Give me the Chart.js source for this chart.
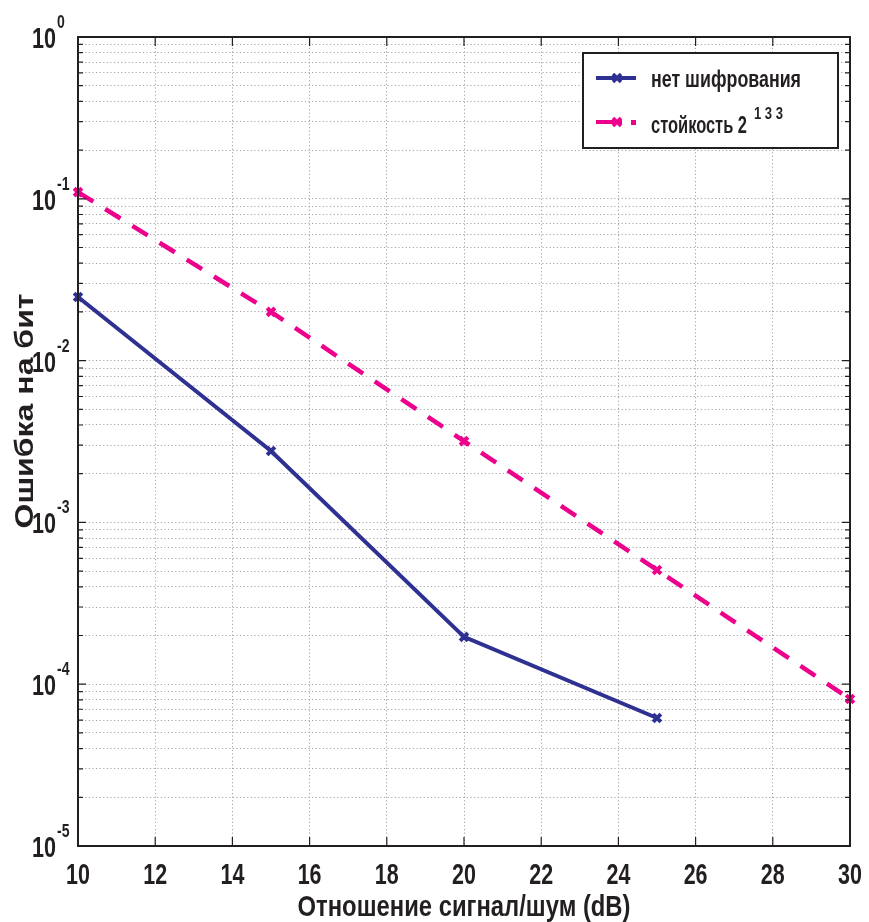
<!DOCTYPE html>
<html>
<head>
<meta charset="utf-8">
<script src="https://cdn.jsdelivr.net/npm/chart.js@4.4.0/dist/chart.umd.min.js"></script>
<style>
  body { margin: 0; background: #fff; }
  canvas { display: block; }
</style>
</head>
<body>
<canvas id="berChart" width="869" height="922"></canvas>
<script>
// data
const snrPlain = [10, 15, 20, 25];
const berPlain = [0.0247, 0.00276, 0.000196, 0.0000618];
const snrCipher = [10, 15, 20, 25, 30];
const berCipher = [0.110, 0.0200, 0.00318, 0.000508, 0.000081];

const seriesNames = ['нет шифрования', 'стойкость 2'];
const cipherExp = '1 3 3';
const xTicks = [10, 12, 14, 16, 18, 20, 22, 24, 26, 28, 30];
const yExps = [0, -1, -2, -3, -4, -5];
const xTitle = 'Отношение сигнал/шум (dB)';
const yTitle = 'Ошибка на бит';

const BLUE = '#2e3192';
const PINK = '#ec008c';
const INK = '#231f20';
const FONT = '"Liberation Sans", Arial, sans-serif';

// log ticks: 1..9 x 10^e for every decade
const yTickValues = [];
yExps.forEach(e => {
    for (let m = 1; m <= 9; m++) {
        if (e === 0 && m > 1) break;
        yTickValues.push(m * Math.pow(10, e));
    }
});

function toPoints(xs, ys) {
    return xs.map((x, i) => ({ x: x, y: ys[i] }));
}

// text squeezed horizontally to look like the condensed font of the original
function drawText(ctx, s, x, y, size, opts) {
    opts = opts || {};
    ctx.font = 'bold ' + size + 'px ' + FONT;
    const w = ctx.measureText(s).width;
    const sx = opts.width ? opts.width / w : (opts.squeeze || 1);
    ctx.save();
    ctx.translate(x, y);
    if (opts.rotate) ctx.rotate(opts.rotate);
    ctx.scale(sx, 1);
    ctx.textAlign = opts.align || 'left';
    ctx.textBaseline = 'alphabetic';
    ctx.fillStyle = INK;
    ctx.fillText(s, 0, 0);
    ctx.restore();
    return w * sx;
}

function drawCross(ctx, x, y, r, color) {
    ctx.save();
    ctx.strokeStyle = color;
    ctx.lineWidth = 3.5;
    ctx.setLineDash([]);
    ctx.beginPath();
    ctx.moveTo(x - r, y - r); ctx.lineTo(x + r, y + r);
    ctx.moveTo(x - r, y + r); ctx.lineTo(x + r, y - r);
    ctx.stroke();
    ctx.restore();
}

const decorations = {
    id: 'decorations',
    afterDraw(chart) {
        const ctx = chart.ctx;
        const a = chart.chartArea;
        const xs = chart.scales.x;
        const ys = chart.scales.y;

        ctx.save();
        ctx.setLineDash([]);
        ctx.strokeStyle = INK;

        // inward tick marks
        ctx.lineWidth = 1.2;
        ctx.beginPath();
        xTicks.forEach(v => {
            const px = xs.getPixelForValue(v);
            ctx.moveTo(px, a.bottom); ctx.lineTo(px, a.bottom - 9);
            ctx.moveTo(px, a.top); ctx.lineTo(px, a.top + 9);
        });
        yTickValues.forEach(v => {
            const py = ys.getPixelForValue(v);
            const len = Math.abs(Math.log10(v) - Math.round(Math.log10(v))) < 1e-9 ? 8 : 5;
            ctx.moveTo(a.left, py); ctx.lineTo(a.left + len, py);
            ctx.moveTo(a.right, py); ctx.lineTo(a.right - len, py);
        });
        ctx.stroke();

        // frame
        ctx.lineWidth = 2;
        ctx.strokeRect(a.left, a.top, a.right - a.left, a.bottom - a.top);
        ctx.restore();

        // x tick labels
        xTicks.forEach(v => {
            drawText(ctx, String(v), xs.getPixelForValue(v), a.bottom + 38, 29, { align: 'center', squeeze: 0.74 });
        });

        // y tick labels as 10 with a raised exponent
        yExps.forEach(e => {
            const py = ys.getPixelForValue(Math.pow(10, e));
            drawText(ctx, '10', 56, py + 11, 30, { align: 'right', width: 24 });
            const s = e === 0 ? '0' : '-' + Math.abs(e);
            drawText(ctx, s, 57, py - 9, 18, { squeeze: 0.78 });
        });

        // axis titles
        drawText(ctx, xTitle, (a.left + a.right) / 2, 916, 30, { align: 'center', width: 333 });
        drawText(ctx, yTitle, 33, 411, 25, { align: 'center', width: 235, rotate: -Math.PI / 2 });

        // legend
        ctx.save();
        ctx.fillStyle = '#fff';
        ctx.fillRect(583, 53, 255, 95);
        ctx.strokeStyle = INK;
        ctx.lineWidth = 2;
        ctx.strokeRect(583, 53, 255, 95);

        ctx.lineWidth = 4;
        ctx.strokeStyle = BLUE;
        ctx.beginPath(); ctx.moveTo(596, 78); ctx.lineTo(636, 78); ctx.stroke();
        drawCross(ctx, 617, 78, 4, BLUE);

        ctx.strokeStyle = PINK;
        ctx.beginPath(); ctx.moveTo(596, 122); ctx.lineTo(622, 122); ctx.stroke();
        drawCross(ctx, 617, 122, 4, PINK);
        ctx.fillStyle = PINK;
        ctx.fillRect(631, 120, 5, 5);
        ctx.restore();

        drawText(ctx, seriesNames[0], 651, 87, 24, { width: 150 });
        const w2 = drawText(ctx, seriesNames[1], 651, 133, 24, { width: 96 });
        drawText(ctx, cipherExp, 651 + w2 + 7, 119, 16, { width: 29 });
    }
};

const ctx = document.getElementById('berChart').getContext('2d');

new Chart(ctx, {
    type: 'line',
    data: {
        datasets: [{
            label: seriesNames[0],
            data: toPoints(snrPlain, berPlain),
            borderColor: BLUE,
            backgroundColor: BLUE,
            borderWidth: 4,
            pointStyle: 'crossRot',
            pointRadius: 5.5,
            pointBorderWidth: 4,
            tension: 0,
            clip: false
        }, {
            label: seriesNames[1] + cipherExp,
            data: toPoints(snrCipher, berCipher),
            borderColor: PINK,
            backgroundColor: PINK,
            borderWidth: 4.5,
            borderDash: [18, 14],
            pointStyle: 'crossRot',
            pointRadius: 5.5,
            pointBorderWidth: 4,
            tension: 0,
            clip: false
        }]
    },
    options: {
        responsive: false,
        animation: false,
        layout: { padding: { left: 78, right: 19, top: 37, bottom: 76 } },
        plugins: {
            legend: { display: false },
            tooltip: { enabled: false }
        },
        scales: {
            x: {
                type: 'linear',
                min: 10,
                max: 30,
                afterBuildTicks: scale => { scale.ticks = xTicks.map(v => ({ value: v })); },
                ticks: { display: false },
                grid: { color: '#a4a4a4', lineWidth: 1, drawTicks: false },
                border: { display: false, dash: [1.2, 2.4] }
            },
            y: {
                type: 'logarithmic',
                min: 1e-5,
                max: 1,
                afterBuildTicks: scale => { scale.ticks = yTickValues.map(v => ({ value: v })); },
                ticks: { display: false },
                grid: { color: '#a4a4a4', lineWidth: 1, drawTicks: false },
                border: { display: false, dash: [1.2, 2.4] }
            }
        }
    },
    plugins: [decorations]
});
</script>
</body>
</html>
